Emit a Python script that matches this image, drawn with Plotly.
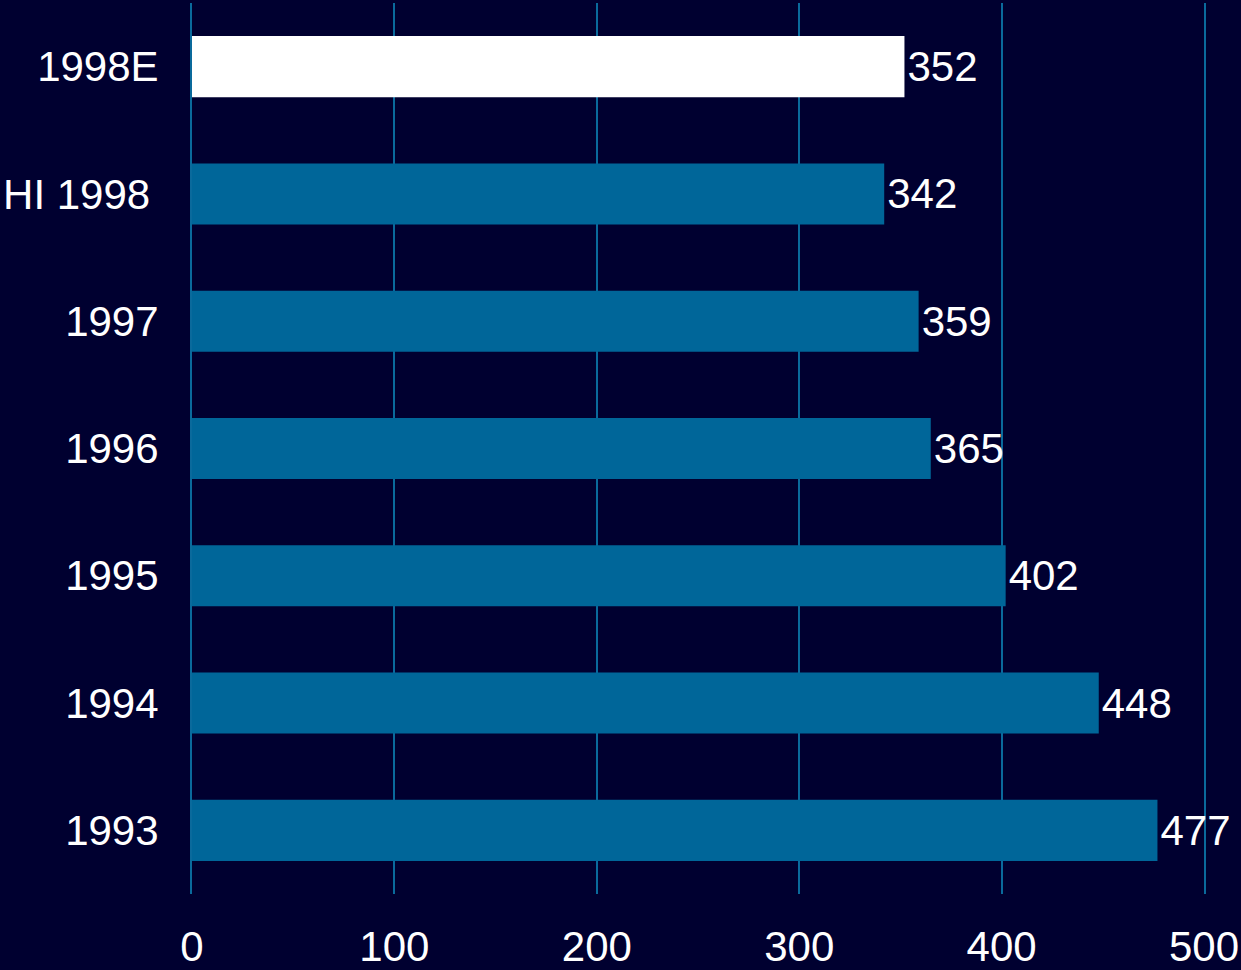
import plotly.graph_objects as go

# Categories listed top to bottom
years = ["1998E", "HI 1998\u2009", "1997", "1996", "1995", "1994", "1993"]
values = [352, 342, 359, 365, 402, 448, 477]
bar_colors = ["#ffffff", "#006699", "#006699", "#006699", "#006699", "#006699", "#006699"]
x_ticks = [0, 100, 200, 300, 400, 500]

BG = "#000030"
GRID = "#0a6a9c"
FONT = "Liberation Sans, Arial, sans-serif"

fig = go.Figure(
    go.Bar(
        x=values,
        y=years,
        orientation="h",
        marker=dict(color=bar_colors, line=dict(width=0)),
        width=0.48,
        text=[str(v) for v in values],
        textposition="outside",
        textfont=dict(color="white", size=42, family=FONT),
        cliponaxis=False,
    )
)

fig.update_layout(
    width=1241,
    height=970,
    margin=dict(l=192, r=37, t=3, b=76),
    paper_bgcolor=BG,
    plot_bgcolor=BG,
    showlegend=False,
    font=dict(family=FONT, color="white", size=42),
    xaxis=dict(
        range=[0, 500],
        tickvals=x_ticks,
        ticktext=[str(t) for t in x_ticks],
        showgrid=True,
        gridcolor=GRID,
        gridwidth=2,
        zeroline=False,
        showline=False,
        ticks="",
        ticklabelstandoff=24,
        automargin=False,
        tickfont=dict(size=42, color="white"),
    ),
    yaxis=dict(
        autorange="reversed",
        showgrid=False,
        zeroline=False,
        # left/right frame lines stand in for the 0 and 500 gridlines
        showline=True,
        mirror=True,
        linecolor=GRID,
        linewidth=2,
        layer="below traces",
        ticks="",
        ticklabelstandoff=23,
        automargin=False,
        tickfont=dict(size=42, color="white"),
    ),
)

fig.write_html("out.html")
